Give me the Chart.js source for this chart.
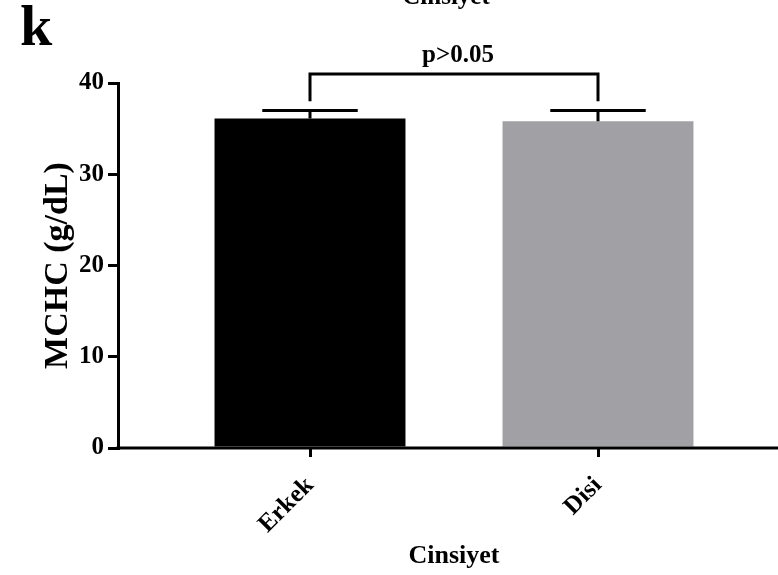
<!DOCTYPE html>
<html>
<head>
<meta charset="utf-8">
<title>MCHC by Cinsiyet</title>
<script src="https://cdn.jsdelivr.net/npm/chart.js@4.4.1/dist/chart.umd.min.js"></script>
<style>
  html, body { margin: 0; padding: 0; background: #fff; }
  #wrap { position: relative; width: 778px; height: 575px; }
</style>
</head>
<body>
<div id="wrap"><canvas id="chart" width="778" height="575"></canvas></div>
<script>
// MCHC (g/dL) per group, mean with upper error (SD)
const categories = ['Erkek', 'Disi'];
const meanValues = [36.1, 35.8];
const errorValues = [0.9, 1.2];
const barColors = ['#000000', '#a1a0a4'];
const yTicks = [0, 10, 20, 30, 40];

// significance bracket between the two groups, leg foot and top in g/dL
const comparisonLabel = 'p>0.05';
const bracketLevels = [38, 41];

const SERIF = "'Liberation Serif', 'Times New Roman', serif";

// Prism-style: the axis runs the full width, the two categories sit inset from it
const insetCategories = {
  id: 'insetCategories',
  afterLayout(chart) {
    const x = chart.scales.x;
    x.left = chart.chartArea.left + 48;
    x.right = chart.chartArea.right - 35;
    x.width = x.right - x.left;
    x.configure();
  }
};

const annotations = {
  id: 'annotations',
  afterDatasetsDraw(chart) {
    const { ctx, chartArea } = chart;
    const x = chart.scales.x;
    const y = chart.scales.y;
    ctx.save();
    ctx.strokeStyle = '#000';
    ctx.fillStyle = '#000';
    ctx.lineWidth = 3;
    ctx.lineCap = 'butt';

    // x axis line across the whole panel
    const y0 = y.getPixelForValue(0);
    ctx.beginPath();
    ctx.moveTo(chartArea.left - 1.5, y0);
    ctx.lineTo(chart.width, y0);
    ctx.stroke();

    // error bars, upper side only
    const meta = chart.getDatasetMeta(0);
    meta.data.forEach((bar, i) => {
      const top = y.getPixelForValue(meanValues[i] + errorValues[i]);
      const capHalf = bar.width / 4;
      ctx.beginPath();
      ctx.moveTo(bar.x, bar.y);
      ctx.lineTo(bar.x, top);
      ctx.moveTo(bar.x - capHalf, top);
      ctx.lineTo(bar.x + capHalf, top);
      ctx.stroke();
    });

    // bracket
    const xa = x.getPixelForValue(0);
    const xb = x.getPixelForValue(1);
    const foot = y.getPixelForValue(bracketLevels[0]);
    const peak = y.getPixelForValue(bracketLevels[1]);
    ctx.beginPath();
    ctx.moveTo(xa, foot);
    ctx.lineTo(xa, peak);
    ctx.lineTo(xb, peak);
    ctx.lineTo(xb, foot);
    ctx.stroke();

    ctx.font = 'bold 25px ' + SERIF;
    ctx.textAlign = 'center';
    ctx.textBaseline = 'alphabetic';
    ctx.fillText(comparisonLabel, (xa + xb) / 2 + 4, peak - 12);
    ctx.restore();
  },
  afterDraw(chart) {
    const { ctx } = chart;
    ctx.save();
    ctx.fillStyle = '#000';
    ctx.textBaseline = 'alphabetic';
    // panel letter
    ctx.font = 'bold 58px ' + SERIF;
    ctx.textAlign = 'left';
    ctx.fillText('k', 20, 45);
    // axis title of the panel above, cut by the top edge
    ctx.font = 'bold 25px ' + SERIF;
    ctx.textAlign = 'center';
    ctx.fillText('Cinsiyet', 446, 4);
    ctx.restore();
  }
};

new Chart(document.getElementById('chart'), {
  type: 'bar',
  data: {
    labels: categories,
    datasets: [{
      data: meanValues,
      backgroundColor: barColors,
      borderWidth: 0,
      barPercentage: 0.663,
      categoryPercentage: 1
    }]
  },
  options: {
    responsive: false,
    animation: false,
    devicePixelRatio: 1,
    layout: { padding: { top: 83, right: 1, bottom: 0, left: 0 } },
    plugins: {
      legend: { display: false },
      tooltip: { enabled: false }
    },
    scales: {
      x: {
        offset: true,
        border: { display: false },
        grid: {
          offset: false,
          drawOnChartArea: false,
          drawTicks: true,
          tickLength: 9,
          lineWidth: 3,
          color: '#000'
        },
        ticks: {
          color: '#000',
          padding: 14,
          minRotation: 45,
          maxRotation: 45,
          font: { family: SERIF, size: 25, weight: 'bold' }
        },
        title: {
          display: true,
          text: 'Cinsiyet',
          color: '#000',
          padding: { top: 0, bottom: 3 },
          font: { family: SERIF, size: 26, weight: 'bold' }
        },
        afterFit(scale) { scale.height = 127; }
      },
      y: {
        min: 0,
        max: 40,
        afterBuildTicks(scale) { scale.ticks = yTicks.map(v => ({ value: v })); },
        border: { display: true, color: '#000', width: 3 },
        grid: {
          drawOnChartArea: false,
          drawTicks: true,
          tickLength: 10,
          lineWidth: 3,
          color: '#000'
        },
        ticks: {
          color: '#000',
          padding: 4,
          font: { family: SERIF, size: 25, weight: 'bold' }
        },
        title: {
          display: true,
          text: 'MCHC (g/dL)',
          color: '#000',
          padding: { top: 38, bottom: 0 },
          font: { family: SERIF, size: 34, weight: 'bold' }
        },
        afterFit(scale) { scale.width = 118; }
      }
    }
  },
  plugins: [insetCategories, annotations]
});
</script>
</body>
</html>
